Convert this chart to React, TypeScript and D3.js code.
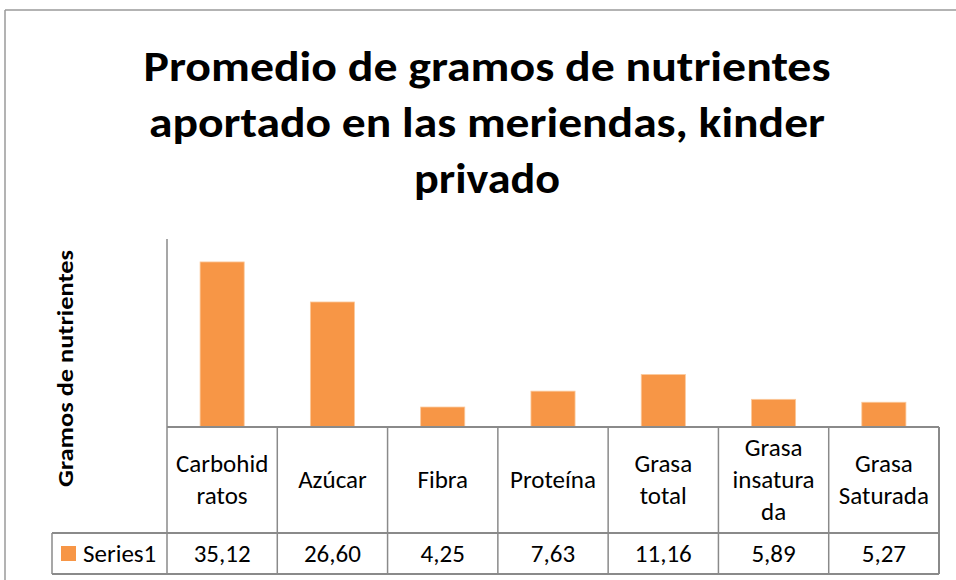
import React from "react";
import * as d3 from "d3";

const categories = ["Carbohidratos", "Azúcar", "Fibra", "Proteína", "Grasa total", "Grasa insaturada", "Grasa Saturada"];
const categoryLines = [["Carbohid", "ratos"], ["Azúcar"], ["Fibra"], ["Proteína"], ["Grasa", "total"], ["Grasa", "insatura", "da"], ["Grasa", "Saturada"]];
const values = [35.12, 26.6, 4.25, 7.63, 11.16, 5.89, 5.27];
const valueLabels = ["35,12", "26,60", "4,25", "7,63", "11,16", "5,89", "5,27"];
const seriesName = "Series1";
const titleLines = ["Promedio de gramos de nutrientes", "aportado en las meriendas, kinder", "privado"];
const yAxisTitle = "Gramos de nutrientes";

const FONT = "Carlito, Lato, 'Open Sans', sans-serif";
const BAR = "#F79646";
const GRID = "#8a8a8a";

export default function App() {
  const left = 167, right = 939;
  const top = 239, base = 427;
  const rowMid = 533, rowBot = 574;
  const legendLeft = 52;

  const cols = d3.scaleBand<string>().domain(categories).range([left, right]).paddingInner(0).paddingOuter(0);
  const bars = d3.scaleBand<string>().domain(categories).range([left, right]).paddingInner(0.6).paddingOuter(0.3);
  const y = d3.scaleLinear().domain([0, 40]).range([base, top]);

  const titleWidths = [687, 676, 146];
  const titleBase = [81, 137, 193];

  return (
    <svg width={956} height={580} style={{ position: "absolute", left: 0, top: 0, display: "block", background: "#fff" }}>
      {/* outer chart border */}
      <line x1={5} y1={10} x2={956} y2={10} stroke="#9a9a9a" strokeWidth={1.5} />
      <line x1={5} y1={10} x2={5} y2={580} stroke="#9a9a9a" strokeWidth={1.5} />

      {/* title */}
      {titleLines.map((t, i) => (
        <text key={i} x={487} y={titleBase[i]} textAnchor="middle" fontFamily={FONT} fontWeight={700} fontSize={42}
          textLength={titleWidths[i]} lengthAdjust="spacingAndGlyphs" fill="#000">{t}</text>
      ))}

      {/* y axis title */}
      <text transform={`translate(73,${368.5}) rotate(-90)`} textAnchor="middle" fontFamily={FONT} fontWeight={700}
        fontSize={23} textLength={237} lengthAdjust="spacingAndGlyphs" fill="#000">{yAxisTitle}</text>

      {/* bars */}
      {categories.map((c, i) => (
        <rect key={c} x={bars(c)} y={y(values[i])} width={bars.bandwidth()} height={base - y(values[i])}
          fill={BAR} stroke="#fbc99c" strokeWidth={0.8} />
      ))}

      {/* y axis line */}
      <line x1={left} y1={top} x2={left} y2={base} stroke={GRID} strokeWidth={1.5} />

      {/* table grid */}
      <line x1={left} y1={base} x2={right} y2={base} stroke={GRID} strokeWidth={2} />
      <line x1={legendLeft} y1={rowMid} x2={right} y2={rowMid} stroke={GRID} strokeWidth={2} />
      <line x1={legendLeft} y1={rowBot} x2={right} y2={rowBot} stroke={GRID} strokeWidth={2} />
      <line x1={legendLeft} y1={rowMid} x2={legendLeft} y2={rowBot} stroke={GRID} strokeWidth={1.5} />
      {categories.map((c) => (
        <line key={c} x1={cols(c)} y1={base} x2={cols(c)} y2={rowBot} stroke={GRID} strokeWidth={1.5} />
      ))}
      <line x1={right} y1={base} x2={right} y2={rowBot} stroke={GRID} strokeWidth={2} />

      {/* category labels */}
      {categories.map((c, i) => {
        const lines = categoryLines[i];
        const cx = (cols(c) as number) + cols.bandwidth() / 2;
        const mid = (base + rowMid) / 2 + 7.5;
        return (
          <text key={c} textAnchor="middle" fontFamily={FONT} fontSize={25} fill="#000">
            {lines.map((l, j) => (
              <tspan key={j} x={cx} y={mid + (j - (lines.length - 1) / 2) * 32}>{l}</tspan>
            ))}
          </text>
        );
      })}

      {/* values row */}
      {categories.map((c, i) => (
        <text key={c} x={(cols(c) as number) + cols.bandwidth() / 2} y={562} textAnchor="middle" fontFamily={FONT}
          fontSize={25} fill="#000">{valueLabels[i]}</text>
      ))}

      {/* legend cell */}
      <rect x={61} y={546} width={15} height={15} fill={BAR} />
      <text x={83} y={562} fontFamily={FONT} fontSize={25} fill="#000">{seriesName}</text>
    </svg>
  );
}
